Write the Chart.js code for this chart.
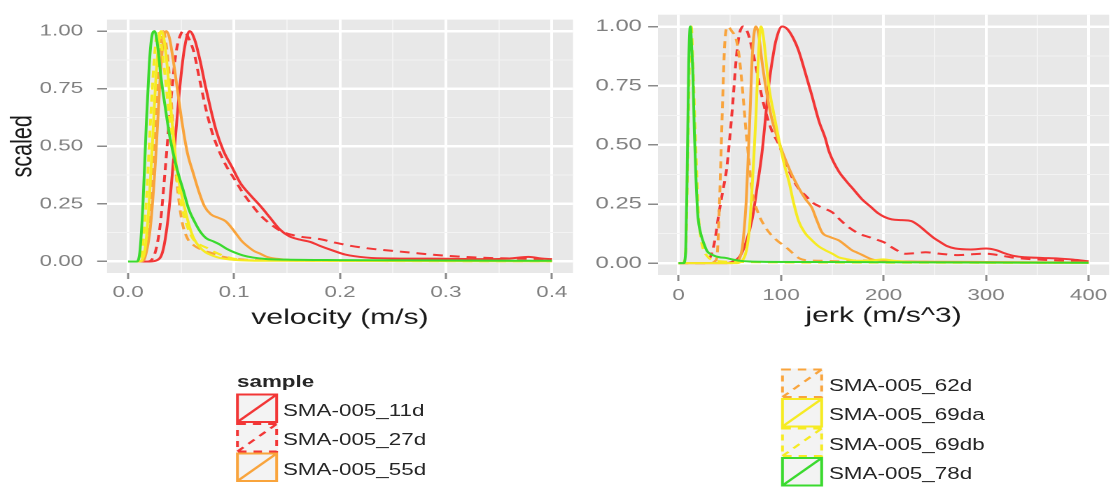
<!DOCTYPE html>
<html>
<head>
<meta charset="utf-8">
<script src="https://cdn.jsdelivr.net/npm/chart.js@4.4.0/dist/chart.umd.min.js"></script>
<style>
  html, body { margin: 0; padding: 0; background: #fff; width: 1115px; height: 489px; overflow: hidden; }
  #page { position: absolute; left: 0; top: 0; width: 796.4px; height: 489px;
          transform: scaleX(1.4); transform-origin: 0 0;
          font-family: "Liberation Sans", Arial, sans-serif; }
  #velWrap { position: absolute; left: 0; top: 0; width: 410px; height: 345px; }
  #jerkWrap { position: absolute; left: 410px; top: 0; width: 386px; height: 345px; }
  #keys { position: absolute; left: 0; top: 360px; }
  .lab { position: absolute; font-size: 16px; line-height: 18px; color: #262626; white-space: nowrap; }
  .ttl { font-weight: bold; }
</style>
</head>
<body>
<div id="page">
  <div id="velWrap"><canvas id="velChart" width="410" height="345"></canvas></div>
  <div id="jerkWrap"><canvas id="jerkChart" width="386" height="345"></canvas></div>
  <canvas id="keys"></canvas>
</div>

<script>
const sampleNames = ["SMA-005_11d", "SMA-005_27d", "SMA-005_55d", "SMA-005_62d", "SMA-005_69da", "SMA-005_69db", "SMA-005_78d"];
const sampleColors = ["#F23636", "#F23636", "#F9A43C", "#F9A43C", "#F6EB22", "#F6EB22", "#3ADA2E"];
const sampleDashed = [false, true, false, true, false, true, false];

const yMajor = [0, 0.25, 0.5, 0.75, 1];
const yMinor = [0.125, 0.375, 0.625, 0.875];
const velMajor = [0, 0.1, 0.2, 0.3, 0.4];
const velMinor = [0.05, 0.15, 0.25, 0.35];
const jerkMajor = [0, 100, 200, 300, 400];
const jerkMinor = [50, 150, 250, 350];

// velocity (m/s) -> scaled density
const vel11d = [[0,0],[0.02,0],[0.027,0.005],[0.033,0.05],[0.038,0.2],[0.043,0.45],[0.048,0.72],[0.053,0.92],[0.058,1.0],
  [0.063,0.96],[0.068,0.87],[0.073,0.76],[0.078,0.66],[0.083,0.57],[0.09,0.48],[0.098,0.41],[0.106,0.34],[0.115,0.29],
  [0.125,0.24],[0.134,0.19],[0.143,0.14],[0.152,0.11],[0.162,0.095],[0.172,0.085],[0.181,0.068],[0.193,0.048],[0.205,0.03],
  [0.225,0.017],[0.25,0.013],[0.3,0.012],[0.34,0.01],[0.36,0.013],[0.378,0.02],[0.39,0.013],[0.4,0.01]];
const vel27d = [[0,0],[0.018,0],[0.024,0.02],[0.03,0.15],[0.035,0.4],[0.04,0.68],[0.045,0.9],[0.05,0.99],[0.053,1.0],
  [0.057,0.97],[0.062,0.91],[0.067,0.8],[0.073,0.67],[0.078,0.58],[0.084,0.5],[0.092,0.42],[0.1,0.36],[0.108,0.3],
  [0.116,0.25],[0.125,0.2],[0.135,0.16],[0.145,0.13],[0.155,0.115],[0.165,0.106],[0.18,0.098],[0.195,0.082],[0.21,0.068],
  [0.23,0.055],[0.25,0.046],[0.27,0.037],[0.3,0.025],[0.33,0.017],[0.36,0.013],[0.4,0.01]];
const vel55d = [[0,0],[0.012,0],[0.016,0.02],[0.021,0.15],[0.026,0.45],[0.03,0.78],[0.033,0.95],[0.036,1.0],[0.039,0.97],
  [0.043,0.86],[0.047,0.73],[0.051,0.6],[0.056,0.47],[0.061,0.39],[0.067,0.3],[0.072,0.24],[0.078,0.205],[0.085,0.19],
  [0.092,0.175],[0.097,0.15],[0.102,0.12],[0.107,0.09],[0.113,0.065],[0.119,0.045],[0.125,0.033],[0.131,0.02],[0.14,0.012],
  [0.155,0.006],[0.2,0.004],[0.3,0.003],[0.4,0.002]];
const vel62d = [[0,0],[0.01,0],[0.015,0.03],[0.02,0.2],[0.025,0.55],[0.029,0.88],[0.033,1.0],[0.037,0.9],[0.041,0.68],
  [0.044,0.45],[0.047,0.3],[0.051,0.17],[0.056,0.1],[0.062,0.07],[0.07,0.05],[0.08,0.035],[0.09,0.02],[0.1,0.012],
  [0.12,0.006],[0.2,0.003],[0.4,0.002]];
const vel69da = [[0,0],[0.01,0],[0.015,0.03],[0.019,0.2],[0.023,0.52],[0.027,0.85],[0.031,1.0],[0.034,0.96],[0.037,0.84],
  [0.04,0.68],[0.043,0.53],[0.046,0.4],[0.05,0.3],[0.054,0.22],[0.058,0.15],[0.062,0.1],[0.067,0.065],[0.073,0.04],
  [0.08,0.025],[0.087,0.015],[0.1,0.007],[0.13,0.003],[0.4,0.001]];
const vel69db = [[0,0],[0.01,0],[0.013,0.04],[0.017,0.25],[0.021,0.6],[0.025,0.9],[0.028,1.0],[0.031,0.95],[0.035,0.8],
  [0.039,0.62],[0.043,0.46],[0.047,0.33],[0.051,0.23],[0.056,0.15],[0.061,0.1],[0.067,0.075],[0.074,0.06],[0.082,0.04],
  [0.09,0.025],[0.1,0.012],[0.12,0.005],[0.4,0.001]];
const vel78d = [[0,0],[0.008,0],[0.011,0.04],[0.014,0.25],[0.017,0.58],[0.02,0.86],[0.023,0.99],[0.025,1.0],[0.028,0.93],
  [0.031,0.8],[0.035,0.67],[0.039,0.55],[0.043,0.46],[0.048,0.37],[0.052,0.31],[0.057,0.23],[0.063,0.17],[0.068,0.13],
  [0.074,0.1],[0.08,0.088],[0.086,0.075],[0.093,0.055],[0.1,0.04],[0.108,0.027],[0.118,0.017],[0.13,0.011],[0.15,0.008],
  [0.2,0.006],[0.3,0.004],[0.4,0.003]];

// jerk (m/s^3) -> scaled density
const jerk11d = [[0,0],[45,0],[52,0.005],[60,0.03],[66,0.09],[72,0.19],[77,0.33],[81.5,0.47],[85,0.62],[88,0.75],[92,0.87],
  [95,0.94],[101,1.0],[106,0.99],[112,0.95],[117,0.9],[124,0.8],[130,0.71],[137,0.6],[143,0.53],[147,0.47],[156,0.39],
  [163,0.35],[171,0.31],[179,0.27],[187,0.24],[195,0.21],[201,0.195],[208,0.185],[218,0.182],[227,0.178],[234,0.16],
  [241,0.135],[248,0.11],[255,0.09],[262,0.072],[270,0.062],[285,0.058],[300,0.062],[310,0.055],[318,0.042],[328,0.03],
  [338,0.025],[355,0.022],[370,0.02],[385,0.015],[400,0.008]];
const jerk27d = [[0,0],[24,0],[29,0.01],[33,0.05],[36,0.11],[39,0.2],[43,0.3],[47,0.4],[50,0.53],[53,0.68],[56,0.85],
  [59,0.96],[63,1.0],[67,0.98],[71,0.92],[76,0.82],[80,0.73],[85,0.64],[91,0.56],[98,0.5],[104,0.43],[111,0.36],[118,0.31],
  [124,0.285],[131,0.255],[140,0.235],[150,0.215],[156,0.19],[165,0.155],[176,0.125],[186,0.11],[195,0.097],[202,0.085],
  [208,0.067],[215,0.05],[221,0.04],[230,0.042],[241,0.046],[255,0.04],[273,0.034],[288,0.038],[299,0.04],[312,0.034],
  [324,0.025],[340,0.018],[363,0.013],[380,0.01],[400,0.006]];
const jerk55d = [[0,0],[50,0],[58,0.01],[62,0.06],[64,0.14],[66,0.26],[68,0.45],[70,0.66],[72,0.88],[75.5,1.0],[78,0.97],
  [81.5,0.85],[86,0.72],[91,0.61],[98,0.51],[105,0.43],[111,0.37],[117,0.32],[124,0.27],[130,0.235],[135,0.18],[140,0.13],
  [148,0.11],[156,0.097],[163,0.075],[169,0.055],[174,0.045],[179,0.035],[189,0.016],[200,0.01],[250,0.006],[300,0.005],
  [400,0.003]];
const jerk62d = [[0,0],[30,0],[36,0.01],[38,0.05],[40,0.26],[43,0.68],[45,0.92],[48,1.0],[52,0.98],[56,0.95],[59,0.88],
  [61,0.8],[63.5,0.68],[66,0.55],[69,0.42],[72,0.3],[77,0.22],[85,0.15],[95,0.1],[105,0.067],[112,0.04],[118,0.02],
  [125,0.012],[140,0.01],[160,0.008],[180,0.012],[195,0.008],[220,0.004],[300,0.003],[400,0.002]];
const jerk69da = [[0,0],[55,0],[62,0.01],[66,0.05],[69,0.14],[71,0.26],[73.5,0.45],[75.5,0.62],[77,0.78],[78.5,0.92],
  [80.5,1.0],[83,0.95],[85.5,0.85],[88,0.75],[93,0.63],[98,0.52],[103,0.42],[108,0.34],[112,0.26],[117,0.18],[123,0.13],
  [130,0.097],[137,0.07],[143,0.055],[150,0.04],[156,0.025],[163,0.018],[175,0.01],[190,0.012],[200,0.016],[210,0.01],
  [230,0.004],[300,0.002],[400,0.001]];
const jerk69db = [[0,0],[4,0],[7,0.05],[9,0.45],[11,0.9],[12.5,1.0],[14,0.85],[15.5,0.66],[17,0.47],[18.5,0.3],[19.5,0.2],
  [22,0.1],[24.5,0.055],[28,0.03],[32,0.015],[40,0.008],[60,0.005],[100,0.003],[200,0.002],[400,0.001]];
const jerk78d = [[0,0],[5,0],[7,0.05],[8.5,0.4],[10,0.85],[11.5,1.0],[13,0.9],[14,0.8],[15.5,0.55],[17,0.36],[18.5,0.22],
  [20,0.16],[22,0.12],[25,0.08],[28,0.05],[33,0.035],[40,0.025],[46,0.022],[52,0.016],[60,0.01],[70,0.007],[80,0.006],
  [120,0.005],[200,0.004],[300,0.003],[400,0.002]];

const velocitySeries = [vel11d, vel27d, vel55d, vel62d, vel69da, vel69db, vel78d];
const jerkSeries = [jerk11d, jerk27d, jerk55d, jerk62d, jerk69da, jerk69db, jerk78d];

const FONT = "'Liberation Sans', Arial, sans-serif";

function inList(list, v) {
  return list.some(m => Math.abs(m - v) < 1e-9);
}

// grey panel behind the grid, like ggplot's theme_grey
const panelBg = {
  id: "panelBg",
  beforeDraw(chart) {
    const { ctx, chartArea: a } = chart;
    ctx.save();
    ctx.fillStyle = "#E8E8E8";
    ctx.fillRect(a.left, a.top, a.right - a.left, a.bottom - a.top);
    ctx.restore();
  }
};

function axisOpts(o) {
  const all = o.major.concat(o.minor).sort((a, b) => a - b);
  return {
    type: "linear",
    min: o.min,
    max: o.max,
    bounds: "data",
    afterBuildTicks: s => { s.ticks = all.map(v => ({ value: v })); },
    afterFit: s => { if (o.w !== undefined) s.width = o.w; if (o.h !== undefined) s.height = o.h; },
    ticks: {
      autoSkip: false,
      maxRotation: 0,
      padding: o.pad,
      color: "#808080",
      font: { family: FONT, size: o.size },
      callback: v => inList(o.major, v) ? o.fmt(v) : ""
    },
    grid: {
      color: c => (c.tick && inList(o.major, c.tick.value)) ? "#FFFFFF" : "#F3F3F3",
      lineWidth: c => (c.tick && inList(o.major, c.tick.value)) ? o.lw : 1,
      tickLength: o.tl,
      tickColor: c => (c.tick && inList(o.major, c.tick.value)) ? "#8A8A8A" : "rgba(0,0,0,0)",
      tickWidth: 1.5
    },
    border: { display: false },
    title: o.title ? {
      display: true,
      text: o.title,
      color: "#1A1A1A",
      font: { family: FONT, size: 21.5 },
      padding: o.titlePad
    } : { display: false }
  };
}

function makeChart(id, series, cfg) {
  const datasets = series.map((pts, i) => ({
    label: sampleNames[i],
    data: pts.map(p => ({ x: p[0], y: p[1] })),
    borderColor: sampleColors[i],
    borderWidth: 2,
    borderDash: sampleDashed[i] ? [7, 5] : [],
    pointRadius: 0,
    fill: false,
    cubicInterpolationMode: "monotone",
    order: series.length - i
  }));
  return new Chart(document.getElementById(id), {
    type: "line",
    data: { datasets },
    options: {
      responsive: false,
      animation: false,
      devicePixelRatio: 2,
      layout: { padding: cfg.padding },
      plugins: { legend: { display: false }, tooltip: { enabled: false } },
      scales: { x: cfg.x, y: cfg.y }
    },
    plugins: [panelBg]
  });
}

makeChart("velChart", velocitySeries, {
  padding: { left: 0, top: 9, right: 0.7, bottom: 0 },
  x: axisOpts({ min: -0.02, max: 0.42, major: velMajor, minor: velMinor, fmt: v => v.toFixed(1),
    h: 72, pad: 4, tl: 6, size: 16, lw: 2, title: "velocity (m/s)", titlePad: { top: 0, bottom: 14 } }),
  y: axisOpts({ min: -0.05, max: 1.05, major: yMajor, minor: yMinor, fmt: v => v.toFixed(2),
    w: 76.4, pad: 10, tl: 7, size: 16, lw: 2.5, title: "scaled", titlePad: { top: 3.5, bottom: 0 } })
});

makeChart("jerkChart", jerkSeries, {
  padding: { left: 0, top: 13, right: 1.7, bottom: 0 },
  x: axisOpts({ min: -20, max: 420, major: jerkMajor, minor: jerkMinor, fmt: v => String(v),
    h: 70, pad: 5, tl: 6, size: 16, lw: 2, title: "jerk (m/s^3)", titlePad: { top: 0, bottom: 16 } }),
  y: axisOpts({ min: -0.05, max: 1.05, major: yMajor, minor: yMinor, fmt: v => v.toFixed(2),
    w: 60, pad: 4.5, tl: 7, size: 17, lw: 2.5, title: null })
});

// legend, split in two columns below the panels
const legendLeft = { keyX: 168.6, textX: 202.1, tops: [393.5, 423, 452.5], items: [0, 1, 2] };
const legendRight = { keyX: 557.9, textX: 592.1, tops: [368.5, 398, 427.5, 457], items: [3, 4, 5, 6] };
const KEY_W = 30, KEY_H = 29.5, LEG_TOP = 360;

const keys = document.getElementById("keys");
const page = document.getElementById("page");
keys.style.width = "797px";
keys.style.height = "129px";
keys.width = 797 * 2;
keys.height = 129 * 2;
const kctx = keys.getContext("2d");
kctx.scale(2, 2);

function drawKey(x, y, i) {
  kctx.save();
  kctx.fillStyle = "#F3F3F3";
  kctx.fillRect(x, y, KEY_W, KEY_H);
  kctx.strokeStyle = sampleColors[i];
  kctx.lineWidth = 2;
  kctx.setLineDash(sampleDashed[i] ? [6, 5] : []);
  kctx.strokeRect(x + 1, y + 1, KEY_W - 2, KEY_H - 2);
  kctx.beginPath();
  kctx.moveTo(x + 1, y + KEY_H - 1);
  kctx.lineTo(x + KEY_W - 1, y + 1);
  kctx.stroke();
  kctx.restore();
}

function addText(text, x, centerY, bold) {
  const d = document.createElement("div");
  d.className = "lab" + (bold ? " ttl" : "");
  d.textContent = text;
  d.style.left = x + "px";
  d.style.top = (centerY - 9) + "px";
  page.appendChild(d);
}

[legendLeft, legendRight].forEach(block => {
  block.items.forEach((i, r) => {
    const top = block.tops[r];
    drawKey(block.keyX, top - LEG_TOP, i);
    addText(sampleNames[i], block.textX, top + KEY_H / 2 + 2.5, false);
  });
});
addText("sample", 169.3, 381.7, true);
</script>
</body>
</html>
